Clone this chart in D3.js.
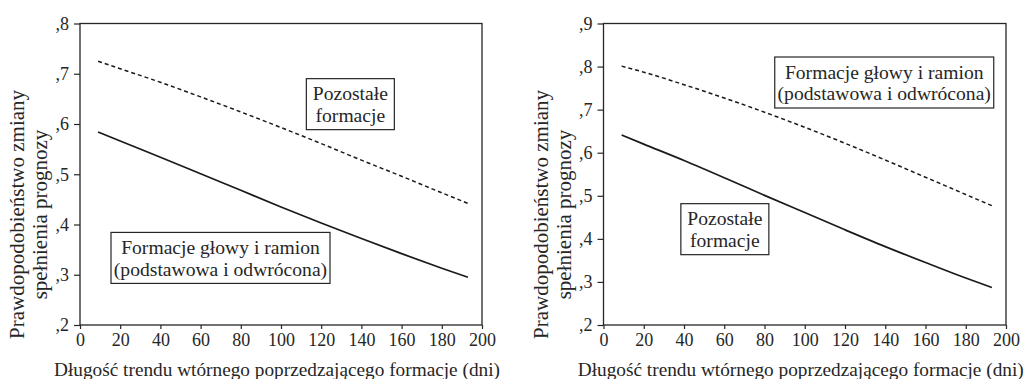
<!DOCTYPE html>
<html>
<head>
<meta charset="utf-8">
<script src="https://cdn.jsdelivr.net/npm/d3@7"></script>
<style>
  html, body { margin: 0; padding: 0; background: #fff; }
  svg { display: block; }
  text { font-family: "Liberation Serif", "Times New Roman", serif; fill: #262626; }
</style>
</head>
<body>
<svg id="chart" width="1025" height="379"></svg>
<script>
// ---- Data ----
const xDays = [9, 20, 40, 60, 80, 100, 120, 140, 160, 180, 193];

// Left panel
const leftDashedName = ["Pozostałe", "formacje"];
const leftDashed = [0.725, 0.710, 0.683, 0.654, 0.624, 0.593, 0.561, 0.528, 0.496, 0.463, 0.442];
const leftSolidName = ["Formacje głowy i ramion", "(podstawowa i odwrócona)"];
const leftSolid = [0.584, 0.566, 0.534, 0.501, 0.468, 0.435, 0.403, 0.372, 0.342, 0.313, 0.295];

// Right panel
const rightDashedName = ["Formacje głowy i ramion", "(podstawowa i odwrócona)"];
const rightDashed = [0.801, 0.787, 0.758, 0.727, 0.694, 0.659, 0.622, 0.583, 0.543, 0.503, 0.477];
const rightSolidName = ["Pozostałe", "formacje"];
const rightSolid = [0.641, 0.620, 0.582, 0.542, 0.501, 0.461, 0.421, 0.382, 0.345, 0.309, 0.287];

// Axes
const xTicks = [0, 20, 40, 60, 80, 100, 120, 140, 160, 180, 200];
const leftYTicks = [0.2, 0.3, 0.4, 0.5, 0.6, 0.7, 0.8];
const leftYTickLabels = [",2", ",3", ",4", ",5", ",6", ",7", ",8"];
const rightYTicks = [0.2, 0.3, 0.4, 0.5, 0.6, 0.7, 0.8, 0.9];
const rightYTickLabels = [",2", ",3", ",4", ",5", ",6", ",7", ",8", ",9"];
const xTitle = "Długość trendu wtórnego poprzedzającego formacje (dni)";
const yTitle = ["Prawdopodobieństwo zmiany", "spełnienia prognozy"];

// ---- Drawing ----
const svg = d3.select("#chart");
const ink = "#262626";
const serif = '"Liberation Serif", "Times New Roman", serif';

function panel(cfg) {
  const g = svg.append("g");
  const x = d3.scaleLinear().domain([0, 200]).range([cfg.left, cfg.left + cfg.width]);
  const y = d3.scaleLinear().domain(cfg.yDomain).range([cfg.top + cfg.height, cfg.top]);

  // frame
  g.append("rect")
    .attr("x", cfg.left).attr("y", cfg.top)
    .attr("width", cfg.width).attr("height", cfg.height)
    .attr("fill", "none").attr("stroke", ink).attr("stroke-width", 1.3);

  // x axis
  const xa = g.append("g")
    .attr("transform", `translate(0,${cfg.top + cfg.height})`)
    .call(d3.axisBottom(x).tickValues(xTicks).tickSize(4).tickPadding(4).tickFormat(d3.format("d")));
  xa.select(".domain").remove();
  xa.selectAll("line").attr("stroke", ink).attr("stroke-width", 1.2);
  xa.selectAll("text").attr("font-size", 18).attr("fill", ink).style("font-family", serif);

  // y axis
  const ya = g.append("g")
    .attr("transform", `translate(${cfg.left},0)`)
    .call(d3.axisLeft(y).tickValues(cfg.yTicks).tickSize(6).tickPadding(5)
      .tickFormat((d, i) => cfg.yTickLabels[i]));
  ya.select(".domain").remove();
  ya.selectAll("line").attr("stroke", ink).attr("stroke-width", 1.2);
  ya.selectAll("text").attr("font-size", 18).attr("fill", ink).style("font-family", serif);

  // lines
  const line = d3.line().x((d, i) => x(xDays[i])).y(d => y(d)).curve(d3.curveMonotoneX);
  g.append("path").datum(cfg.dashed).attr("d", line)
    .attr("fill", "none").attr("stroke", "#1a1a1a").attr("stroke-width", 1.5)
    .attr("stroke-dasharray", "4,3");
  g.append("path").datum(cfg.solid).attr("d", line)
    .attr("fill", "none").attr("stroke", "#1a1a1a").attr("stroke-width", 1.7);

  // annotation boxes
  cfg.labels.forEach(l => {
    const cx = x(l.at[0]), cy = y(l.at[1]);
    const bw = l.w, bh = 51;
    g.append("rect")
      .attr("x", cx - bw / 2).attr("y", cy - bh / 2)
      .attr("width", bw).attr("height", bh)
      .attr("fill", "#fff").attr("stroke", ink).attr("stroke-width", 1.2);
    l.text.forEach((t, i) => {
      g.append("text")
        .attr("x", cx).attr("y", cy - bh / 2 + 21.5 + i * 21.8)
        .attr("text-anchor", "middle").attr("font-size", 19.6)
        .text(t);
    });
  });

  // x title
  g.append("text")
    .attr("x", cfg.left + cfg.width / 2 - 4).attr("y", 376)
    .attr("text-anchor", "middle").attr("font-size", 19.3)
    .text(xTitle);

  // y title
  yTitle.forEach((t, i) => {
    g.append("text")
      .attr("transform", `translate(${cfg.left - 56 + i * 23},${cfg.top + 191}) rotate(-90)`)
      .attr("text-anchor", "middle").attr("font-size", 21)
      .text(t);
  });
}

panel({
  left: 80, top: 23.5, width: 402, height: 301.5,
  yDomain: [0.2, 0.8], yTicks: leftYTicks, yTickLabels: leftYTickLabels,
  dashed: leftDashed, solid: leftSolid,
  labels: [
    { text: leftDashedName, at: [134.5, 0.6395], w: 88 },
    { text: leftSolidName, at: [69.9, 0.3335], w: 219 }
  ]
});

panel({
  left: 603.5, top: 23.5, width: 402.5, height: 301.5,
  yDomain: [0.2, 0.9], yTicks: rightYTicks, yTickLabels: rightYTickLabels,
  dashed: rightDashed, solid: rightSolid,
  labels: [
    { text: rightDashedName, at: [139.5, 0.763], w: 219 },
    { text: rightSolidName, at: [60.3, 0.4225], w: 88 }
  ]
});
</script>
</body>
</html>
